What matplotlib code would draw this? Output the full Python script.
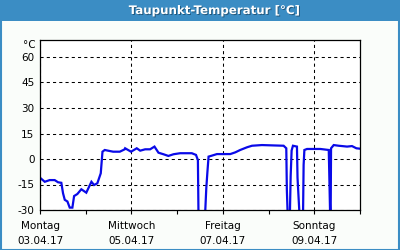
import matplotlib
matplotlib.use("Agg")
import matplotlib.pyplot as plt
import matplotlib.patheffects as pe
from matplotlib.patches import Rectangle

# hours since Monday 03.04.17 00:00
hours = [0.4, 2.5, 5.1, 7.7, 9.5, 11.2, 12.1, 13.0, 14.4, 15.6, 17.0, 17.9, 19.6,
         21.7, 24.3, 27.0, 28.4, 30.1, 31.9, 32.8, 34.0, 35.7, 38.4, 41.9, 44.5,
         44.7, 47.8, 50.8, 52.6, 55.2, 57.8, 60.1, 62.2, 64.8, 67.4, 70.1, 73.6,
         79.7, 81.9, 82.9, 83.2, 86.7, 87.3, 87.9, 88.5, 90.3, 92.9, 99.9, 102.5,
         105.1, 108.7, 111.3, 116.5, 127.9, 129.3, 129.6, 130.0, 131.2, 131.6,
         132.1, 132.8, 134.9, 135.2, 136.2, 138.1, 138.4, 138.8, 140.2, 147.2,
         151.6, 151.9, 152.3, 152.6, 152.8, 154.2, 156.8, 158.6, 161.2, 163.8,
         166.1, 167.7]
dewpoint = [-11.4, -13.4, -12.4, -12.4, -13.7, -14.0, -20.2, -24.0, -25.0, -28.6,
            -28.6, -21.8, -20.6, -17.8, -19.8, -13.4, -15.3, -14.3, -8.4, 4.3, 5.3,
            4.9, 4.3, 4.3, 5.7, 6.3, 4.3, 6.3, 4.9, 5.7, 5.7, 7.3, 3.7, 2.8, 1.8,
            2.8, 3.4, 3.4, 2.4, -0.6, -32.0, -32.0, -17.2, -7.5, 1.4, 2.0, 2.9, 2.9,
            3.9, 5.3, 6.9, 7.8, 8.2, 7.8, 6.3, -18.2, -32.0, -32.0, -10.0, 5.0, 7.8,
            7.3, -11.0, -32.0, -32.0, -3.5, 5.3, 5.9, 5.9, 5.3, -10.4, -32.0, -32.0,
            6.3, 8.2, 7.8, 7.6, 7.3, 7.6, 6.3, 6.1]

day_ticks = [0, 48, 96, 144]
day_labels = ["Montag\n03.04.17", "Mittwoch\n05.04.17", "Freitag\n07.04.17",
              "Sonntag\n09.04.17"]
minor_ticks = [24, 72, 120, 168]
y_ticks = [-30, -15, 0, 15, 30, 45, 60]

bg = "#fafdfa"
blue = "#3b8dc4"

fig = plt.figure(figsize=(4, 2.5), dpi=100, facecolor=bg)
fig.patches.append(Rectangle((0, 0.918), 1, 0.082, transform=fig.transFigure,
                             facecolor=blue, edgecolor="none", zorder=0))
fig.patches.append(Rectangle((0.002, 0.002), 0.995, 0.996, transform=fig.transFigure,
                             facecolor="none", edgecolor=blue, linewidth=1.5, zorder=1))
fig.text(0.535, 0.958, "Taupunkt-Temperatur [°C]", color="white", fontsize=8.5,
         fontweight="bold", ha="center", va="center",
         path_effects=[pe.withSimplePatchShadow(offset=(0.7, -0.7), shadow_rgbFace="#1c4a6a", alpha=0.8)])

ax = fig.add_axes([0.1, 0.16, 0.8, 0.68])
ax.set_facecolor("white")
ax.plot(hours, dewpoint, color="#0a0ae8", linewidth=1.6, solid_joinstyle="miter")

ax.set_xlim(0, 168)
ax.set_ylim(-30, 70)
ax.set_xticks(day_ticks)
ax.set_xticklabels(day_labels, fontsize=7.5, linespacing=1.6)
ax.set_xticks(minor_ticks, minor=True)
ax.set_yticks(y_ticks)
ax.set_yticklabels([str(v) for v in y_ticks], fontsize=7.5)
ax.tick_params(axis="x", which="both", direction="out", length=3, width=0.8, pad=5)
ax.tick_params(axis="y", length=0, pad=4)

ax.grid(True, axis="both", which="major", color="black", linestyle=(0, (3, 3)), linewidth=0.75)
for s in ax.spines.values():
    s.set_linewidth(0.9)

ax.text(-0.015, 0.968, "°C", transform=ax.transAxes, fontsize=7.5, ha="right", va="center")

fig.savefig("out.png", dpi=100, facecolor=bg)
